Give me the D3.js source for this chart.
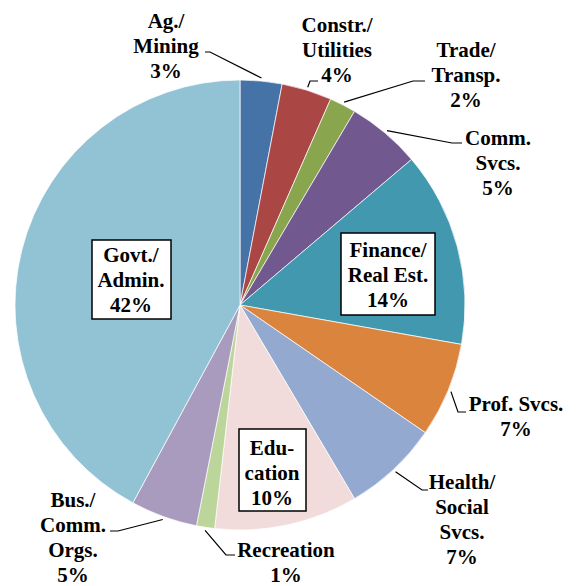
<!DOCTYPE html>
<html>
<head>
<meta charset="utf-8">
<script src="https://cdn.jsdelivr.net/npm/d3@7"></script>
<style>
  body { margin: 0; background: #fff; }
</style>
</head>
<body>
<svg id="pie"></svg>
<script>
var width = 580, height = 586;

// data
var categories = ["Ag./Mining", "Constr./Utilities", "Trade/Transp.", "Comm. Svcs.", "Finance/Real Est.",
  "Prof. Svcs.", "Health/Social Svcs.", "Education", "Recreation", "Bus./Comm. Orgs.", "Govt./Admin."];
var shares = [3.0, 3.6, 1.9, 5.3, 14.0, 6.8, 6.9, 10.3, 1.3, 4.8, 42.1];
var labelLines = [["Ag./", "Mining"], ["Constr./", "Utilities"], ["Trade/", "Transp."], ["Comm.", "Svcs."],
  ["Finance/", "Real Est."], ["Prof. Svcs."], ["Health/", "Social", "Svcs."], ["Edu-", "cation"],
  ["Recreation"], ["Bus./", "Comm.", "Orgs."], ["Govt./", "Admin."]];
var colors = ["#4572a7", "#aa4643", "#89a54e", "#71588f", "#4198af", "#db843d",
  "#93a9cf", "#f2dcdb", "#bcd59b", "#a99bbd", "#92c3d4"];

// label layout: x center, first baseline, box or leader elbow + end
var labelLayout = [
  { x: 166, y: 28, leader: [[210, 52], [205, 52]] },
  { x: 337, y: 32, leader: [[310, 81], [318, 81]] },
  { x: 466, y: 57, leader: [[413, 81], [425, 81]] },
  { x: 498, y: 145, leader: [[452, 143], [462, 143]] },
  { x: 388, y: 257, box: [341, 233, 94, 82] },
  { x: 516, y: 411, leader: [[458, 412], [466, 412]] },
  { x: 462, y: 489, leader: [[422, 490], [428, 490]] },
  { x: 272, y: 455, box: [239, 429, 67, 82] },
  { x: 286, y: 557, leader: [[226, 555], [235, 555]] },
  { x: 73, y: 507, leader: [[118, 531], [110, 531]] },
  { x: 131, y: 262, box: [92, 240, 79, 79] }
];

var cx = 240, cy = 305, r = 225;
var lineH = 25;

var svg = d3.select("#pie")
  .attr("width", width)
  .attr("height", height);

var pie = d3.pie().sort(null).value(d => d);
var arcs = pie(shares);
var total = d3.sum(shares);

var arc = d3.arc().innerRadius(0).outerRadius(r);

var g = svg.append("g")
  .attr("transform", "translate(" + cx + "," + cy + ")");

g.selectAll("path.slice")
  .data(arcs)
  .enter()
  .append("path")
  .attr("class", "slice")
  .attr("d", arc)
  .attr("fill", (d, i) => colors[i])
  .attr("stroke", "#ffffff")
  .attr("stroke-width", 0.7);

// leader lines, start on the arc at the slice middle
arcs.forEach((d, i) => {
  var lay = labelLayout[i];
  if (!lay.leader) return;
  var a = (d.startAngle + d.endAngle) / 2;
  var sx = cx + Math.sin(a) * (r + 3), sy = cy - Math.cos(a) * (r + 3);
  var pts = [[sx, sy]].concat(lay.leader);
  svg.append("path")
    .attr("d", d3.line()(pts))
    .attr("fill", "none")
    .attr("stroke", "#000")
    .attr("stroke-width", 1.2);
});

// labels
arcs.forEach((d, i) => {
  var lay = labelLayout[i];
  if (lay.box) {
    svg.append("rect")
      .attr("x", lay.box[0]).attr("y", lay.box[1])
      .attr("width", lay.box[2]).attr("height", lay.box[3])
      .attr("fill", "#fff")
      .attr("stroke", "#000")
      .attr("stroke-width", 1.5);
  }
  var lines = labelLines[i].concat([d3.format(".0%")(shares[i] / total)]);
  var t = svg.append("text")
    .attr("text-anchor", "middle")
    .style("font-family", "Liberation Serif, DejaVu Serif, serif")
    .style("font-weight", "bold")
    .style("font-size", "21px")
    .style("fill", "#000");
  lines.forEach((s, j) => {
    t.append("tspan")
      .attr("x", lay.x)
      .attr("y", lay.y + j * lineH)
      .text(s);
  });
});
</script>
</body>
</html>
